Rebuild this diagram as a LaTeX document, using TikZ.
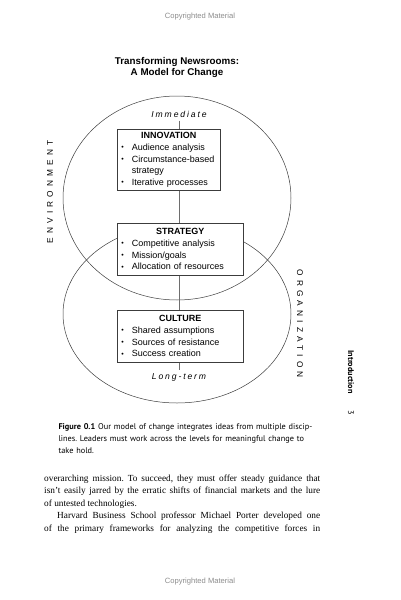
\documentclass[tikz,border=0pt]{standalone}
\usepackage{fontspec}
\setmainfont{Liberation Serif}
\setsansfont{Liberation Sans}
\newfontfamily\capfont{PT Sans}
\frenchspacing
\definecolor{outline}{HTML}{3C3C3C}
\definecolor{connector}{HTML}{6E6E6E}
\definecolor{copygray}{HTML}{8C8C8C}

% bullet lines inside a level box
\newcommand{\boxdot}{\raisebox{0.7pt}{\fontsize{7}{7}\selectfont\textbullet}}
\newcommand{\boxitem}[1]{\par\noindent\hbox to 11pt{\hspace{0.5pt}\boxdot\hfil}#1}
\newcommand{\boxmore}[1]{\par\noindent\hspace*{11pt}#1}
\newcommand{\boxhead}[1]{{\centering\bfseries #1\par}}

\tikzset{
  levelbox/.style={draw=outline, line width=0.6pt, fill=white, anchor=north west,
    inner xsep=3.5pt, inner ysep=2.5pt, text width=#1, align=left,
    font=\sffamily\fontsize{9}{11.7}\selectfont},
  horizon/.style={font=\sffamily\itshape\fontsize{8.6}{10}\selectfont\addfontfeature{LetterSpace=22}},
  sphere/.style={font=\sffamily\fontsize{8.3}{10}\selectfont\addfontfeature{LetterSpace=50}},
  ring/.style={draw=outline, line width=0.5pt},
  link/.style={draw=connector, line width=0.5pt}
}

\begin{document}
\begin{tikzpicture}[x=1pt, y=-1pt]
  \useasboundingbox (0,0) rectangle (400,600);

  % ============== page furniture ==============
  \node[copygray, font=\sffamily\fontsize{7.6}{9}\selectfont] (copytop) at (200,16.5) {Copyrighted Material};
  \node[copygray, font=\sffamily\fontsize{7.6}{9}\selectfont] (copybot) at (200,582) {Copyrighted Material};

  % Title
  \node[font=\sffamily\bfseries\fontsize{9.8}{11}\selectfont, align=center] (title) at (177,67)
    {Transforming Newsrooms:\\A Model for Change};

  % ============== the two spheres ==============
  \draw[ring] (177,198) ellipse [x radius=114pt, y radius=102pt];
  \draw[ring] (177,314) ellipse [x radius=114pt, y radius=89pt];

  \node[sphere, rotate=90] (env) at (50,192) {ENVIRONMENT};
  \node[sphere, rotate=-90] (org) at (300,323.5) {ORGANIZATION};

  % ============== levels ==============
  \node[horizon] (immediate) at (179,114) {Immediate};
  \node[horizon] (longterm) at (179,377) {Long-term};

  \node[levelbox=96pt, minimum height=61pt] (innov) at (117,129) {%
    \boxhead{INNOVATION}
    \boxitem{Audience analysis}
    \boxitem{Circumstance-based}
    \boxmore{strategy}
    \boxitem{Iterative processes}};

  \node[levelbox=119pt, minimum height=52pt] (strategy) at (117,223) {%
    \boxhead{STRATEGY}
    \boxitem{Competitive analysis}
    \boxitem{Mission/goals}
    \boxitem{Allocation of resources}};

  \node[levelbox=119pt, minimum height=52pt] (culture) at (117,310) {%
    \boxhead{CULTURE}
    \boxitem{Shared assumptions}
    \boxitem{Sources of resistance}
    \boxitem{Success creation}};

  % vertical spine through the levels
  \draw[link] (immediate.south) -- (immediate.south |- innov.north);
  \draw[link] (innov.south -| immediate) -- (strategy.north -| immediate);
  \draw[link] (strategy.south -| immediate) -- (culture.north -| immediate);
  \draw[link] (culture.south -| immediate) -- (longterm.north);

  % ============== caption ==============
  \node[anchor=north west, text width=320pt, align=left,
    font=\capfont\fontsize{8.3}{12}\selectfont] (caption) at (55,420)
    {\textbf{Figure 0.1}\hspace{3pt}Our model of change integrates ideas from multiple discip-\\
     lines. Leaders must work across the levels for meaningful change to\\
     take hold.};

  % ============== running head ==============
  \node[rotate=-90, font=\capfont\bfseries\fontsize{8.2}{9}\selectfont] (runhead) at (351,372) {Introduction};
  \node[rotate=-90, font=\capfont\fontsize{8.2}{9}\selectfont] (pageno) at (351,413) {3};

  % ============== body text ==============
  \node[anchor=north west, text width=276pt, align=justify, inner sep=0pt,
    font=\rmfamily\fontsize{9.3}{12.5}\selectfont] (body) at (44,474.5)
    {overarching mission. To succeed, they must offer steady guidance that\linebreak
     isn't easily jarred by the erratic shifts of financial markets and the lure\linebreak
     of untested technologies.\par
     \hspace*{13pt}Harvard Business School professor Michael Porter developed one\linebreak
     of the primary frameworks for analyzing the competitive forces in{\parfillskip=0pt\par}};
\end{tikzpicture}
\end{document}
